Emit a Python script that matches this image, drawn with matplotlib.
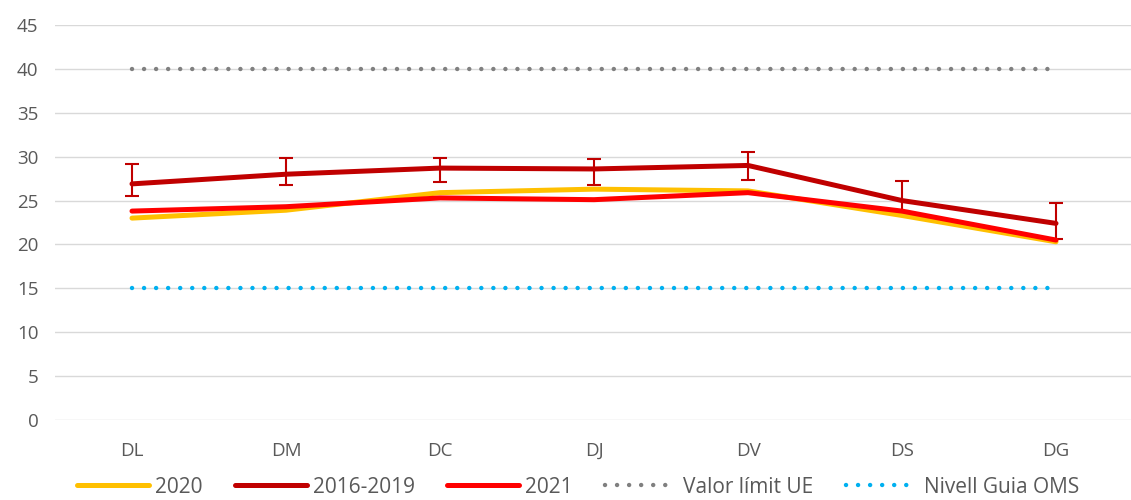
import matplotlib
matplotlib.use("Agg")
import matplotlib.pyplot as plt
from matplotlib.lines import Line2D
import numpy as np

plt.rcParams['font.family'] = ['Open Sans', 'DejaVu Sans']

dies = ['DL', 'DM', 'DC', 'DJ', 'DV', 'DS', 'DG']
v2020 = [23.0, 23.9, 25.9, 26.3, 26.1, 23.3, 20.3]
v1619 = [26.9, 28.0, 28.7, 28.6, 29.0, 25.0, 22.4]
err_up = [2.3, 1.8, 1.1, 1.1, 1.5, 2.2, 2.3]
err_dn = [1.4, 1.2, 1.6, 1.8, 1.7, 1.2, 1.8]
v2021 = [23.8, 24.3, 25.3, 25.1, 25.9, 23.8, 20.5]
limit_ue = [40] * 7
guia_oms = [15] * 7

x = np.arange(len(dies))
dots = (0, (0.01, 2.7))

fig = plt.figure(figsize=(11.31, 5), dpi=100)
ax = fig.add_axes([55 / 1131, 0.16, 1078 / 1131, 0.79])

ax.plot(x, v2020, color='#FFC000', lw=3.6, solid_capstyle='round', zorder=3)
ax.errorbar(x, v1619, yerr=[err_dn, err_up], color='#C00000', lw=3.6, ecolor='#C00000',
            elinewidth=1.5, capsize=5, capthick=1.5, solid_capstyle='round', zorder=4)
ax.plot(x, v2021, color='#FF0000', lw=3.6, solid_capstyle='round', zorder=5)
ax.plot(x, limit_ue, color='#808080', lw=3.2, ls=dots, dash_capstyle='round', zorder=2)
ax.plot(x, guia_oms, color='#00B0F0', lw=3.2, ls=dots, dash_capstyle='round', zorder=2)

ax.set_xlim(-0.5, len(dies) - 0.5)
ax.set_ylim(0, 45)
ax.set_yticks(range(0, 46, 5))
ax.set_xticks(x)
ax.set_xticklabels(dies)
ax.yaxis.grid(True, color='#D9D9D9', lw=1)
ax.set_axisbelow(True)
for s in ax.spines.values():
    s.set_visible(False)
ax.tick_params(length=0, labelsize=13.5, colors='#595959')
ax.tick_params(axis='x', pad=16)
ax.tick_params(axis='y', pad=12)

handles = [
    Line2D([], [], color='#FFC000', lw=3.6, solid_capstyle='round'),
    Line2D([], [], color='#C00000', lw=3.6, solid_capstyle='round'),
    Line2D([], [], color='#FF0000', lw=3.6, solid_capstyle='round'),
    Line2D([], [], color='#808080', lw=3.2, ls=dots, dash_capstyle='round'),
    Line2D([], [], color='#00B0F0', lw=3.2, ls=dots, dash_capstyle='round'),
]
labels = ['2020', '2016-2019', '2021', 'Valor límit UE', 'Nivell Guia OMS']
leg = fig.legend(handles, labels, loc='lower center', ncol=5, frameon=False,
                 fontsize=15, bbox_to_anchor=(0.511, -0.033), handlelength=3.45,
                 columnspacing=1.55, handletextpad=0.3)
for t in leg.get_texts():
    t.set_color('#595959')

fig.savefig('out.png', dpi=100)
